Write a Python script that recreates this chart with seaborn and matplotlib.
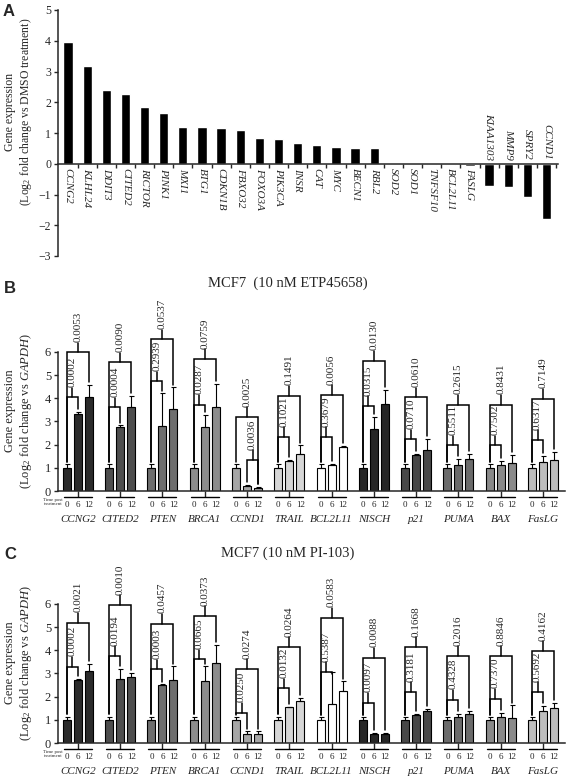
import matplotlib
matplotlib.use("Agg")
import matplotlib.pyplot as plt
import numpy as np
import pandas as pd
import seaborn as sns

sns.set_style("ticks")
plt.rcParams['font.family'] = ['Liberation Serif', 'DejaVu Serif']
plt.rcParams['mathtext.fontset'] = 'custom'
plt.rcParams['mathtext.rm'] = 'Liberation Serif'
plt.rcParams['mathtext.it'] = 'Liberation Serif:italic'

# ---------------- panel A data ----------------
a_genes = ["CCNG2", "KLHL24", "DDIT3", "CITED2", "RICTOR", "PINK1", "MXI1", "BTG1",
           "CDKN1B", "FBXO32", "FOXO3A", "PIK3CA", "INSR", "CAT", "MYC", "BECN1",
           "RBL2", "SOD2", "SOD1", "TNFSF10", "BCL2L11", "FASLG", "KIAA1303",
           "MMP9", "SPRY2", "CCND1"]
a_values = [3.95, 3.19, 2.39, 2.28, 1.83, 1.66, 1.18, 1.18, 1.15, 1.10, 0.85, 0.82,
            0.69, 0.60, 0.56, 0.52, 0.52, 0.03, 0.03, -0.04, -0.04, -0.06, -0.71,
            -0.75, -1.09, -1.81]

# ---------------- panels B / C data ----------------
genes = ["CCNG2", "CITED2", "PTEN", "BRCA1", "CCND1", "TRAIL", "BCL2L11",
         "NISCH", "p21", "PUMA", "BAX", "FasLG"]
times = ["0", "6", "12"]
gene_colors = ["#2b2b2b", "#4d4d4d", "#6e6e6e", "#8c8c8c", "#a6a6a6", "#d6d6d6",
               "#ffffff", "#262626", "#474747", "#6b6b6b", "#8a8a8a", "#bdbdbd"]

b_means = [[1.0, 3.30, 4.07], [1.0, 2.76, 3.61], [1.0, 2.79, 3.54], [1.0, 2.76, 3.64],
           [1.0, 0.21, 0.14], [1.0, 1.30, 1.61], [1.0, 1.14, 1.90], [1.0, 2.69, 3.76],
           [1.0, 1.57, 1.76], [1.0, 1.11, 1.40], [1.0, 1.11, 1.19], [1.0, 1.26, 1.33]]
b_errs = [[0.15, 0.10, 0.50], [0.15, 0.07, 0.50], [0.15, 1.42, 0.93], [0.15, 0.53, 0.96],
          [0.15, 0.04, 0.03], [0.15, 0.04, 0.36], [0.15, 0.03, 0.06], [0.15, 0.50, 0.61],
          [0.15, 0.04, 0.50], [0.15, 0.29, 0.21], [0.15, 0.19, 0.35], [0.15, 0.24, 0.36]]
b_inner_pair = [(0, 1), (0, 1), (0, 1), (0, 1), (1, 2), (0, 1), (0, 1), (0, 1),
                (0, 1), (0, 1), (0, 1), (0, 1)]
b_inner_h = [4.04, 3.61, 4.73, 3.71, 1.33, 2.33, 2.33, 3.66, 2.23, 1.97, 1.97, 2.19]
b_outer_h = [5.97, 5.54, 6.54, 5.69, 3.19, 4.11, 4.14, 5.61, 4.04, 3.71, 3.71, 3.97]
b_inner_p = ["0.0002", "0.0004", "0.2939", "0.0287", "0.0036", "0.1021", "0.3679",
             "0.0315", "0.0710", "0.5511", "0.7502", "0.6317"]
b_outer_p = ["0.0053", "0.0090", "0.0537", "0.0759", "0.0025", "0.1491", "0.0056",
             "0.0130", "0.0610", "0.2615", "0.8431", "0.7149"]

c_means = [[1.0, 2.70, 3.10], [1.0, 2.76, 2.86], [1.0, 2.50, 2.72], [1.0, 2.66, 3.45],
           [1.0, 0.38, 0.38], [1.0, 1.55, 1.83], [1.0, 1.68, 2.23], [1.0, 0.40, 0.40],
           [1.0, 1.22, 1.37], [1.0, 1.13, 1.25], [1.0, 1.10, 1.07], [1.0, 1.40, 1.50]]
c_errs = [[0.12, 0.05, 0.30], [0.12, 0.45, 0.15], [0.12, 0.03, 0.58], [0.12, 0.64, 0.77],
          [0.12, 0.12, 0.12], [0.12, 0.02, 0.12], [0.10, 1.40, 0.43], [0.10, 0.02, 0.02],
          [0.10, 0.03, 0.10], [0.10, 0.12, 0.15], [0.10, 0.20, 0.55], [0.10, 0.20, 0.22]]
c_inner_pair = [(0, 1)] * 12
c_inner_h = [3.28, 3.74, 3.17, 3.60, 1.30, 2.36, 3.05, 1.73, 2.19, 1.87, 1.90, 2.19]
c_outer_h = [5.18, 5.94, 5.14, 5.47, 3.18, 4.13, 5.40, 3.67, 4.13, 3.74, 3.74, 3.96]
c_inner_p = ["0.0002", "0.0194", "0.0003", "0.0665", "0.0250", "0.0132", "0.5387",
             "0.0097", "0.3181", "0.4328", "0.7370", "0.5692"]
c_outer_p = ["0.0021", "0.0010", "0.0457", "0.0373", "0.0274", "0.0264", "0.0583",
             "0.0088", "0.1668", "0.2016", "0.8846", "0.4162"]

fig = plt.figure(figsize=(5.67, 7.81), dpi=100)
FW, FH = 567.0, 781.0


def fx(px):
    return px / FW


def fy(px):
    return 1 - px / FH


# ================= Panel A =================
axA = fig.add_axes([fx(58), fy(256), fx(500), (256 - 10) / FH])
dfA = pd.DataFrame({"gene": a_genes, "value": a_values})
sns.barplot(data=dfA, x="gene", y="value", color="black", width=0.48,
            errorbar=None, ax=axA, saturation=1)
axA.set_xlim(-0.52, 25.6)
axA.set_ylim(-3, 5)
axA.set_yticks(range(-3, 6))
axA.spines['top'].set_visible(False)
axA.spines['right'].set_visible(False)
axA.spines['bottom'].set_position(('data', 0))
for s in ['left', 'bottom']:
    axA.spines[s].set_linewidth(1.1)
axA.set_xticks(np.arange(len(a_genes)) + 0.5)
axA.set_xticklabels([])
axA.tick_params(axis='x', direction='out', length=3, width=1)
axA.tick_params(axis='y', direction='out', length=3, width=1, labelsize=8.5, pad=2)
axA.set_xlabel("")
axA.set_ylabel("")
for i, (g, v) in enumerate(zip(a_genes, a_values)):
    if v > -0.3:
        axA.text(i, -0.15, g, rotation=270, ha='center', va='top',
                 fontsize=8, style='italic')
    else:
        axA.text(i, 0.12, g, rotation=270, ha='center', va='bottom',
                 fontsize=8, style='italic')
fig.text(fx(10), fy(112), "Gene expression", rotation=90, ha='center',
         va='center', fontsize=8.5)
fig.text(fx(26), fy(112), "(Log$_2$ fold change vs DMSO treatment)", rotation=90,
         ha='center', va='center', fontsize=8.5)
fig.text(fx(3), fy(4), "A", fontsize=12, fontweight='bold',
         family='Liberation Sans', ha='left', va='top')


# ================= Panels B / C =================
def draw_panel(y0_px, means, errs, inner_pair, inner_h, outer_h, inner_p, outer_p,
               title, title_y, letter, letter_y):
    unit = 23.2
    ytop = 8.6
    ax = fig.add_axes([fx(58), fy(y0_px), fx(507), ytop * unit / FH])
    rows = []
    for gi, g in enumerate(genes):
        for ti, t in enumerate(times):
            rows.append({"gene": g, "time": t, "value": means[gi][ti]})
    df = pd.DataFrame(rows)
    sns.barplot(data=df, x="gene", y="value", hue="time", order=genes,
                hue_order=times, width=0.78, gap=0.27, errorbar=None,
                legend=False, edgecolor="black", linewidth=0.8, ax=ax,
                palette=["#888888"] * 3, saturation=1)
    ax.set_xlim(-0.47, 11.52)
    ax.set_ylim(0, ytop)
    ax.set_yticks(range(0, 7))
    ax.spines['top'].set_visible(False)
    ax.spines['right'].set_visible(False)
    ax.spines['left'].set_bounds(0, 6)
    for s in ['left', 'bottom']:
        ax.spines[s].set_linewidth(1.1)
    ax.tick_params(axis='y', direction='out', length=3, width=1, labelsize=9, pad=2)
    ax.tick_params(axis='x', direction='out', length=4.5, width=1, labelbottom=False)
    ax.set_xlabel("")
    ax.set_ylabel("")

    # recolour bars by gene and collect bar centres
    centres = {}
    for p in ax.patches:
        cx = p.get_x() + p.get_width() / 2
        gi = int(round(cx))
        ti = int(round((cx - gi) / 0.26)) + 1
        p.set_facecolor(gene_colors[gi])
        centres[(gi, ti)] = cx

    for (gi, ti), cx in centres.items():
        ax.errorbar(cx, means[gi][ti], yerr=[[0], [errs[gi][ti]]], fmt='none',
                    ecolor='black', elinewidth=0.8, capsize=1.8, capthick=0.8)

    def bracket(gi, a, b, h, ptxt):
        xa, xb = centres[(gi, a)], centres[(gi, b)]
        ba = min(means[gi][a] + errs[gi][a] + 0.12, h - 0.08)
        bb = min(means[gi][b] + errs[gi][b] + 0.12, h - 0.08)
        ax.plot([xa, xa, xb, xb], [ba, h, h, bb], color='black', lw=1.1,
                solid_joinstyle='miter', clip_on=False)
        xm = (xa + xb) / 2
        ax.plot([xm, xm], [h, h + 0.42], color='black', lw=1.1, clip_on=False)
        ax.text(xm, h + 0.45, ptxt, rotation=90, ha='center', va='bottom',
                fontsize=8, clip_on=False)

    for gi in range(len(genes)):
        a, b = inner_pair[gi]
        bracket(gi, a, b, inner_h[gi], inner_p[gi])
        bracket(gi, 0, 2, outer_h[gi], outer_p[gi])

    # labels under the axis
    ax_h_px = ytop * unit
    trans = ax.get_xaxis_transform()
    for gi, g in enumerate(genes):
        ax.plot([gi - 0.33, gi + 0.33], [-6 / ax_h_px] * 2, color='black', lw=1.0,
                transform=trans, clip_on=False)
        for ti, t in enumerate(times):
            ax.text(centres[(gi, ti)], -14 / ax_h_px, t, transform=trans,
                    ha='center', va='center', fontsize=6.5)
        ax.text(gi, -28 / ax_h_px, g, transform=trans, ha='center', va='center',
                fontsize=8, style='italic')
    ax.text(-0.37, -11 / ax_h_px, "Time post\ntreatment", transform=trans,
            ha='right', va='center', fontsize=3.5, linespacing=0.9)

    fig.text(fx(10), fy(y0_px - 80), "Gene expression", rotation=90, ha='center',
             va='center', fontsize=9)
    fig.text(fx(26), fy(y0_px - 80), "(Log$_2$ fold change vs $\\mathit{GAPDH}$)",
             rotation=90, ha='center', va='center', fontsize=9)
    fig.text(fx(288), fy(title_y), title, ha='center', va='center', fontsize=10.5)
    fig.text(fx(4), fy(letter_y), letter, fontsize=12, fontweight='bold',
             family='Liberation Sans', ha='left', va='top')


draw_panel(491, b_means, b_errs, b_inner_pair, b_inner_h, b_outer_h, b_inner_p,
           b_outer_p, "MCF7  (10 nM ETP45658)", 283, "B", 281)
draw_panel(743, c_means, c_errs, c_inner_pair, c_inner_h, c_outer_h, c_inner_p,
           c_outer_p, "MCF7 (10 nM PI-103)", 553, "C", 547)

fig.savefig("out.png", dpi=100)
